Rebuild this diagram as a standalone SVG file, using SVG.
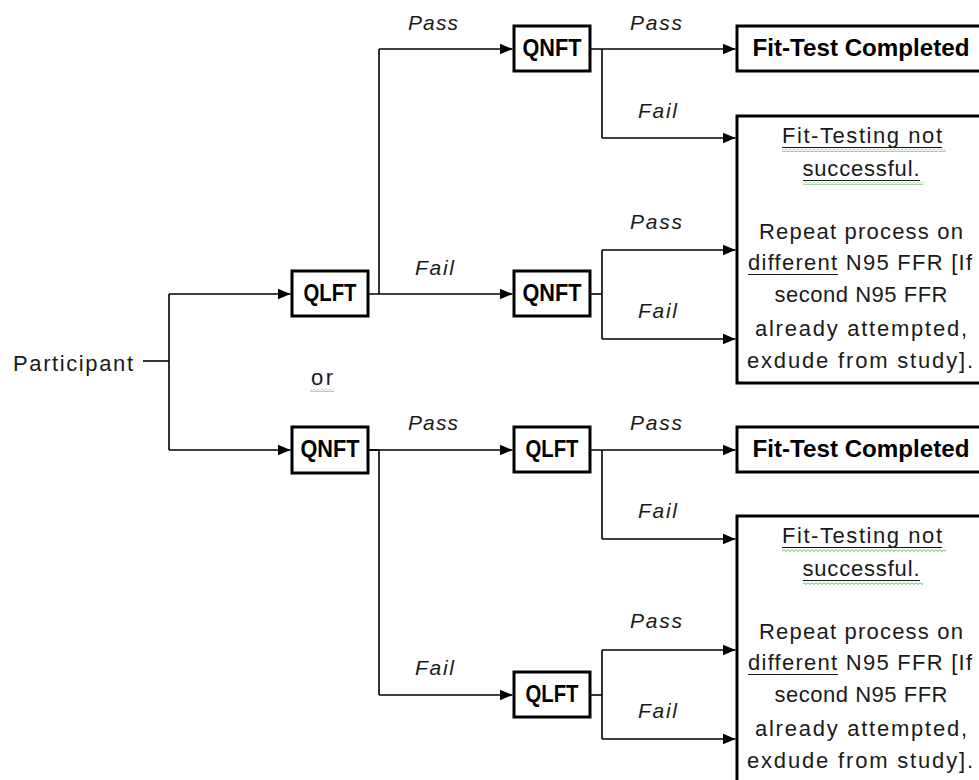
<svg xmlns="http://www.w3.org/2000/svg" width="979" height="780" viewBox="0 0 979 780">
<style>
.box{fill:#fff;stroke:#000;stroke-width:3}
.ln{fill:none;stroke:#000;stroke-width:1.6}
.t{font-family:"Liberation Sans",Arial,sans-serif;font-size:22px;fill:#1a1a1a}
.m{text-anchor:middle}
.b{font-family:"Liberation Sans",Arial,sans-serif;font-weight:bold;font-size:24px;fill:#000;text-anchor:middle}
.i{font-family:"Liberation Sans",Arial,sans-serif;font-style:italic;font-size:21px;fill:#1a1a1a}
.u{stroke:#1a1a1a;stroke-width:1}
.w{fill:url(#wavy)}
</style>
<defs>
<marker id="ah" markerUnits="userSpaceOnUse" markerWidth="14" markerHeight="12" refX="13" refY="6" orient="auto">
<path d="M0,0.5 L13,6 L0,11.5 z" fill="#000"/>
</marker>
<pattern id="wavy" patternUnits="userSpaceOnUse" width="4" height="3">
<path d="M0,0.5 L2,2.5 L4,0.5" fill="none" stroke="#3aa63a" stroke-width="0.9"/>
</pattern>
</defs>

<g id="connectors">
<path class="ln" d="M143,361 H169"/>
<path class="ln" d="M169,294 V450"/>
<path class="ln" d="M169,294 H290.5" marker-end="url(#ah)"/>
<path class="ln" d="M169,450 H290.5" marker-end="url(#ah)"/>
<path class="ln" d="M379,49 V294"/>
<path class="ln" d="M379,49 H512.5" marker-end="url(#ah)"/>
<path class="ln" d="M368,294 H512.5" marker-end="url(#ah)"/>
<path class="ln" d="M602,49 V138"/>
<path class="ln" d="M590,49 H735.5" marker-end="url(#ah)"/>
<path class="ln" d="M602,138 H735.5" marker-end="url(#ah)"/>
<path class="ln" d="M590,294 H602"/>
<path class="ln" d="M602,250 V339"/>
<path class="ln" d="M602,250 H735.5" marker-end="url(#ah)"/>
<path class="ln" d="M602,339 H735.5" marker-end="url(#ah)"/>
<path class="ln" d="M368,450 H379 V695"/>
<path class="ln" d="M368,450 H512.5" marker-end="url(#ah)"/>
<path class="ln" d="M379,695 H512.5" marker-end="url(#ah)"/>
<path class="ln" d="M602,450 V539"/>
<path class="ln" d="M590,450 H735.5" marker-end="url(#ah)"/>
<path class="ln" d="M602,539 H735.5" marker-end="url(#ah)"/>
<path class="ln" d="M590,695 H602"/>
<path class="ln" d="M602,650 V739"/>
<path class="ln" d="M602,650 H735.5" marker-end="url(#ah)"/>
<path class="ln" d="M602,739 H735.5" marker-end="url(#ah)"/>
</g>

<g id="labels">
<text class="i" x="408" y="30" textLength="50" lengthAdjust="spacing">Pass</text>
<text class="i" x="415" y="275" textLength="39" lengthAdjust="spacing">Fail</text>
<text class="i" x="630" y="30" textLength="52" lengthAdjust="spacing">Pass</text>
<text class="i" x="638" y="118" textLength="39" lengthAdjust="spacing">Fail</text>
<text class="i" x="630" y="229" textLength="52" lengthAdjust="spacing">Pass</text>
<text class="i" x="638" y="318" textLength="39" lengthAdjust="spacing">Fail</text>
<text class="i" x="408" y="430" textLength="50" lengthAdjust="spacing">Pass</text>
<text class="i" x="415" y="675" textLength="39" lengthAdjust="spacing">Fail</text>
<text class="i" x="630" y="430" textLength="52" lengthAdjust="spacing">Pass</text>
<text class="i" x="638" y="518" textLength="39" lengthAdjust="spacing">Fail</text>
<text class="i" x="630" y="628" textLength="52" lengthAdjust="spacing">Pass</text>
<text class="i" x="638" y="718" textLength="39" lengthAdjust="spacing">Fail</text>
<text class="t" x="311" y="385" textLength="22" lengthAdjust="spacing">or</text>
<rect class="w" x="310" y="389" width="24" height="3"/>
</g>

<g id="participant">
<text class="t" x="13" y="371" textLength="120" lengthAdjust="spacing">Participant</text>
</g>

<g id="qlft1">
<rect class="box" x="292" y="271" width="76" height="45"/>
<text class="b" x="330" y="301" textLength="53" lengthAdjust="spacingAndGlyphs">QLFT</text>
</g>
<g id="qnft1">
<rect class="box" x="292" y="427" width="76" height="46"/>
<text class="b" x="330" y="457" textLength="59" lengthAdjust="spacingAndGlyphs">QNFT</text>
</g>
<g id="qnft2">
<rect class="box" x="514" y="26" width="76" height="45"/>
<text class="b" x="552" y="56" textLength="59" lengthAdjust="spacingAndGlyphs">QNFT</text>
</g>
<g id="qnft3">
<rect class="box" x="514" y="271" width="76" height="45"/>
<text class="b" x="552" y="301" textLength="59" lengthAdjust="spacingAndGlyphs">QNFT</text>
</g>
<g id="qlft2">
<rect class="box" x="514" y="427" width="76" height="45"/>
<text class="b" x="552" y="457" textLength="53" lengthAdjust="spacingAndGlyphs">QLFT</text>
</g>
<g id="qlft3">
<rect class="box" x="514" y="672" width="76" height="45"/>
<text class="b" x="552" y="702" textLength="53" lengthAdjust="spacingAndGlyphs">QLFT</text>
</g>

<g id="done1">
<rect class="box" x="737" y="26" width="260" height="45"/>
<text class="b" x="861" y="56" textLength="217" lengthAdjust="spacingAndGlyphs">Fit-Test Completed</text>
</g>
<g id="done2">
<rect class="box" x="737" y="427" width="260" height="45"/>
<text class="b" x="861" y="457" textLength="217" lengthAdjust="spacingAndGlyphs">Fit-Test Completed</text>
</g>

<g id="fail1">
<rect class="box" x="737" y="116" width="260" height="267"/>
<text class="t m" x="862" y="143" textLength="160" lengthAdjust="spacing">Fit-Testing not</text>
<line class="u" x1="782" y1="147.5" x2="942" y2="147.5"/>
<rect class="w" x="782" y="149" width="164" height="3"/>
<text class="t m" x="861" y="176" textLength="117" lengthAdjust="spacing">successful.</text>
<line class="u" x1="803" y1="180.5" x2="920" y2="180.5"/>
<rect class="w" x="803" y="182" width="120" height="3"/>
<text class="t m" x="861" y="239" textLength="204" lengthAdjust="spacing">Repeat process on</text>
<text class="t m" x="860" y="270" textLength="224" lengthAdjust="spacing">different N95 FFR [If</text>
<line class="u" x1="748" y1="274.5" x2="838" y2="274.5"/>
<text class="t m" x="861" y="302" textLength="173" lengthAdjust="spacing">second N95 FFR</text>
<text class="t m" x="861" y="336" textLength="212" lengthAdjust="spacing">already attempted,</text>
<text class="t m" x="860" y="368" textLength="226" lengthAdjust="spacing">exdude from study].</text>
</g>

<g id="fail2">
<rect class="box" x="737" y="516" width="260" height="300"/>
<text class="t m" x="862" y="543" textLength="160" lengthAdjust="spacing">Fit-Testing not</text>
<line class="u" x1="782" y1="547.5" x2="942" y2="547.5"/>
<rect class="w" x="782" y="549" width="164" height="3"/>
<text class="t m" x="861" y="576" textLength="117" lengthAdjust="spacing">successful.</text>
<line class="u" x1="803" y1="580.5" x2="920" y2="580.5"/>
<rect class="w" x="803" y="582" width="120" height="3"/>
<text class="t m" x="861" y="639" textLength="204" lengthAdjust="spacing">Repeat process on</text>
<text class="t m" x="860" y="670" textLength="224" lengthAdjust="spacing">different N95 FFR [If</text>
<line class="u" x1="748" y1="674.5" x2="838" y2="674.5"/>
<text class="t m" x="861" y="702" textLength="173" lengthAdjust="spacing">second N95 FFR</text>
<text class="t m" x="861" y="736" textLength="212" lengthAdjust="spacing">already attempted,</text>
<text class="t m" x="860" y="768" textLength="226" lengthAdjust="spacing">exdude from study].</text>
</g>
</svg>
